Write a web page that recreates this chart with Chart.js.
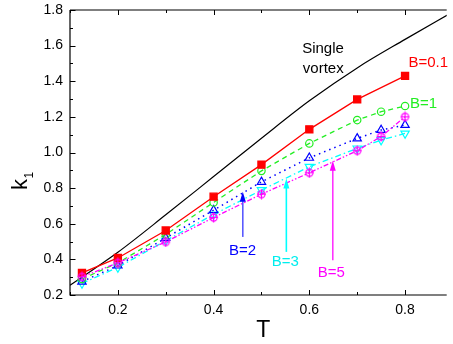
<!DOCTYPE html>
<html><head><meta charset="utf-8">
<script src="https://cdn.jsdelivr.net/npm/chart.js@4/dist/chart.umd.min.js"></script>
<style>html,body{margin:0;padding:0;background:#fff;overflow:hidden}canvas{display:block}</style>
</head><body>
<canvas id="c" width="453" height="344"></canvas>
<script>
// ---- data ----
const T_SINGLE = [0.1, 0.2, 0.3, 0.4, 0.5, 0.6, 0.7, 0.8, 0.9];
const K_SINGLE = [0.255, 0.44, 0.65, 0.865, 1.08, 1.29, 1.475, 1.635, 1.79];
const T_B01 = [0.125, 0.2, 0.3, 0.4, 0.5, 0.6, 0.7, 0.8];
const K_B01 = [0.324, 0.408, 0.562, 0.752, 0.932, 1.13, 1.298, 1.43];
const T_B = [0.125, 0.2, 0.3, 0.4, 0.5, 0.6, 0.7, 0.75, 0.8];
const K_B1 = [0.29, 0.38, 0.54, 0.72, 0.897, 1.051, 1.182, 1.229, 1.261];
const K_B2 = [0.275, 0.365, 0.52, 0.676, 0.835, 0.97, 1.079, 1.126, 1.154];
const K_B3 = [0.265, 0.355, 0.505, 0.652, 0.789, 0.92, 1.023, 1.07, 1.107];
const K_B5 = [0.302, 0.38, 0.498, 0.635, 0.766, 0.886, 1.010, 1.09, 1.2];
const X_MAJOR = [0.2, 0.4, 0.6, 0.8];
const X_MINOR = [0.1, 0.3, 0.5, 0.7];
const Y_MAJOR = [0.2, 0.4, 0.6, 0.8, 1.0, 1.2, 1.4, 1.6, 1.8];
const Y_MINOR = [0.3, 0.5, 0.7, 0.9, 1.1, 1.3, 1.5, 1.7];
const X_TITLE = 'T';
const Y_TITLE = 'k';
const Y_TITLE_SUB = '1';
const LABELS = ['Single', 'vortex', 'B=0.1', 'B=1', 'B=2', 'B=3', 'B=5'];
const ARROW_T = [0.461, 0.552, 0.649];
const ARROW_FROM = [0.526, 0.442, 0.395];
const ARROW_TO = [0.779, 0.854, 0.953];

// ---- layout / style (not data) ----
const labelPos = [[0.5851, 1.557], [0.5865, 1.448], [0.8071, 1.4815], [0.8102, 1.2478], [0.4324, 0.4236], [0.5214, 0.3618], [0.6174, 0.3017]];
const labelColor = ['#000', '#000', '#ff0000', '#22ee22', '#0000ff', '#00eeee', '#ff00ff'];
const arrowShaft = ['#5a5aff', '#00ffff', '#ff33ff'];
const arrowHead = ['#0000ff', '#00ffff', '#ff00ff'];

function pts(xs, ys) { return xs.map((x, i) => ({x: x, y: ys[i]})); }
function crossCircle(color) {
  const c = document.createElement('canvas'); c.width = 11; c.height = 11;
  const g = c.getContext('2d'); g.strokeStyle = color; g.lineWidth = 1.2;
  g.beginPath(); g.arc(5.5, 5.5, 3.6, 0, 2 * Math.PI); g.stroke();
  g.beginPath(); g.moveTo(5.5, 0.5); g.lineTo(5.5, 10.5); g.moveTo(1.2, 5.5); g.lineTo(9.8, 5.5); g.stroke();
  return c;
}
const FONT = 'Liberation Sans, Arial, sans-serif';

const deco = {
  id: 'deco',
  afterDraw(chart) {
    const ctx = chart.ctx, a = chart.chartArea, xs = chart.scales.x, ys = chart.scales.y;
    ctx.save();
    ctx.strokeStyle = '#000'; ctx.lineWidth = 1.2;
    ctx.beginPath();
    ctx.moveTo(a.left, a.top); ctx.lineTo(a.left, a.bottom); ctx.lineTo(a.right, a.bottom);
    ctx.moveTo(a.left, a.top); ctx.lineTo(a.right, a.top);
    ctx.stroke();
    ctx.lineWidth = 1;
    ctx.beginPath();
    const xt = (v, L) => { const p = Math.round(xs.getPixelForValue(v)) + 0.5; ctx.moveTo(p, a.bottom); ctx.lineTo(p, a.bottom - L); ctx.moveTo(p, a.top); ctx.lineTo(p, a.top + L); };
    const yt = (v, L) => { const p = Math.round(ys.getPixelForValue(v)) + 0.5; ctx.moveTo(a.left, p); ctx.lineTo(a.left + L, p); };
    X_MAJOR.forEach(v => xt(v, 5)); X_MINOR.forEach(v => xt(v, 3));
    Y_MAJOR.forEach(v => yt(v, 5.5)); Y_MINOR.forEach(v => yt(v, 3));
    ctx.stroke();
    // axis titles
    ctx.fillStyle = '#000';
    ctx.font = '23px ' + FONT; ctx.textAlign = 'center'; ctx.textBaseline = 'alphabetic';
    ctx.fillText(X_TITLE, xs.getPixelForValue(0.504), 336.5);
    ctx.save();
    ctx.translate(27, 190); ctx.rotate(-Math.PI / 2);
    ctx.textAlign = 'left'; ctx.font = '22px ' + FONT;
    ctx.fillText(Y_TITLE, 0, 0);
    const w = ctx.measureText(Y_TITLE).width;
    ctx.font = '12px ' + FONT;
    ctx.fillText(Y_TITLE_SUB, w + 0.5, 6);
    ctx.restore();
    // arrows
    ARROW_T.forEach((t, i) => {
      const x = xs.getPixelForValue(t), y0 = ys.getPixelForValue(ARROW_FROM[i]), y1 = ys.getPixelForValue(ARROW_TO[i]);
      ctx.strokeStyle = arrowShaft[i]; ctx.lineWidth = 1.6;
      ctx.beginPath(); ctx.moveTo(x, y0); ctx.lineTo(x, y1 + 8); ctx.stroke();
      ctx.fillStyle = arrowHead[i];
      ctx.beginPath(); ctx.moveTo(x, y1); ctx.lineTo(x - 3, y1 + 10); ctx.lineTo(x + 3, y1 + 10); ctx.closePath(); ctx.fill();
    });
    // labels
    ctx.font = '15px ' + FONT; ctx.textAlign = 'left'; ctx.textBaseline = 'alphabetic';
    LABELS.forEach((s, i) => {
      ctx.fillStyle = labelColor[i];
      ctx.fillText(s, xs.getPixelForValue(labelPos[i][0]), ys.getPixelForValue(labelPos[i][1]));
    });
    ctx.restore();
  }
};

new Chart(document.getElementById('c'), {
  type: 'line',
  data: {
    datasets: [
      {data: pts(T_SINGLE, K_SINGLE), borderColor: '#000', borderWidth: 1.2, pointRadius: 0, cubicInterpolationMode: 'monotone', order: 6},
      {data: pts(T_B01, K_B01), borderColor: '#ff0000', backgroundColor: '#ff0000', borderWidth: 1.3, pointStyle: 'rect', pointRadius: 5, pointBackgroundColor: '#ff0000', order: 1},
      {data: pts(T_B, K_B1), borderColor: '#22ee22', borderWidth: 1.3, borderDash: [5, 4], pointStyle: 'circle', pointRadius: 3.7, pointBorderWidth: 1.2, pointBackgroundColor: 'rgba(0,0,0,0)', order: 2},
      {data: pts(T_B, K_B2), borderColor: '#0000ff', borderWidth: 1.5, borderDash: [1.5, 4], pointStyle: 'triangle', pointRadius: 4.8, pointBorderWidth: 1.2, pointBackgroundColor: 'rgba(0,0,0,0)', order: 3},
      {data: pts(T_B, K_B3), borderColor: '#00ffff', borderWidth: 1.3, borderDash: [6, 3, 1.5, 3], pointStyle: 'triangle', pointRotation: 180, pointRadius: 4.8, pointBorderWidth: 1.2, pointBackgroundColor: 'rgba(0,0,0,0)', order: 4},
      {data: pts(T_B, K_B5), borderColor: '#ff00ff', borderWidth: 1.3, borderDash: [5, 2, 1.5, 2, 1.5, 2], pointStyle: crossCircle('#ff00ff'), pointRadius: 4, order: 0}
    ]
  },
  options: {
    responsive: false, animation: false,
    layout: {padding: {left: 0, right: 0, top: 10, bottom: 0}},
    plugins: {legend: {display: false}, tooltip: {enabled: false}},
    elements: {line: {fill: false}},
    scales: {
      x: {
        type: 'linear', min: 0.1, max: 0.887,
        afterBuildTicks: s => { s.ticks = X_MAJOR.map(v => ({value: v})); },
        afterFit: s => { s.height = 49; s.paddingLeft = 0; s.paddingRight = 0; },
        grid: {display: false, drawTicks: false}, border: {display: false},
        ticks: {callback: v => v.toFixed(1), font: {size: 14, family: FONT}, color: '#000', padding: 7, maxRotation: 0, autoSkip: false}
      },
      y: {
        type: 'linear', min: 0.2, max: 1.8,
        afterBuildTicks: s => { s.ticks = Y_MAJOR.map(v => ({value: v})); },
        afterFit: s => { s.width = 70; s.paddingTop = 0; s.paddingBottom = 0; },
        grid: {display: false, drawTicks: false}, border: {display: false},
        ticks: {callback: v => v.toFixed(1), font: {size: 14, family: FONT}, color: '#000', padding: 7, autoSkip: false}
      }
    }
  },
  plugins: [deco]
});
</script>
</body></html>
